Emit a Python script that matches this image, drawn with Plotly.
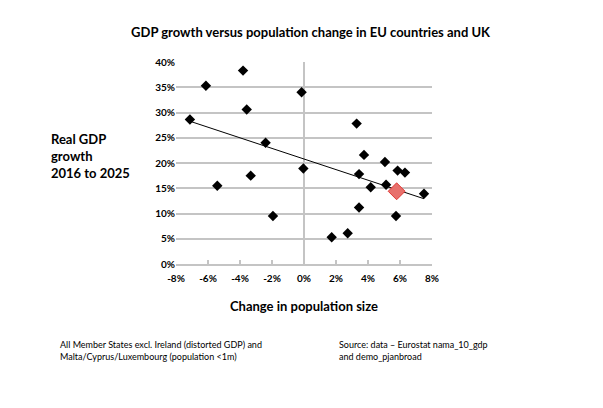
import numpy as np
import plotly.graph_objects as go

# population change (%) and real GDP growth (%)
pop_change = [-7.13, -6.13, -5.42, -3.81, -3.58, -3.33, -2.40, -1.94, -0.15, -0.04,
              1.73, 2.73, 3.29, 3.44, 3.44, 3.75, 4.17, 5.06, 5.13, 5.75, 5.85, 6.31, 7.50]
gdp_growth = [28.6, 35.3, 15.5, 38.3, 30.6, 17.5, 24.0, 9.5, 34.0, 18.9,
              5.3, 6.1, 27.8, 17.8, 11.2, 21.6, 15.2, 20.2, 15.7, 9.5, 18.5, 18.1, 13.9]
uk_pop = [5.79]
uk_gdp = [14.4]

x_ticks = [-8, -6, -4, -2, 0, 2, 4, 6, 8]
y_ticks = [0, 5, 10, 15, 20, 25, 30, 35, 40]

all_x = np.array(pop_change + uk_pop)
all_y = np.array(gdp_growth + uk_gdp)
slope, intercept = np.polyfit(all_x, all_y, 1)
tx = np.array([all_x.min(), all_x.max()])
ty = slope * tx + intercept

FONT = "Lato"
fig = go.Figure()
fig.add_trace(go.Scatter(x=tx, y=ty, mode="lines",
                         line=dict(color="black", width=1), hoverinfo="skip"))
fig.add_trace(go.Scatter(x=pop_change, y=gdp_growth, mode="markers",
                         marker=dict(symbol="diamond", size=8, color="black")))
fig.add_trace(go.Scatter(x=uk_pop, y=uk_gdp, mode="markers",
                         marker=dict(symbol="diamond", size=13, color="#e8706c",
                                     line=dict(color="#e03a36", width=1))))

fig.update_layout(
    width=603, height=408,
    margin=dict(l=176, r=171, t=62, b=144),
    paper_bgcolor="white", plot_bgcolor="white",
    showlegend=False,
    font=dict(family=FONT, color="black"),
    title=dict(text="GDP growth versus population change in EU countries and UK",
               x=0.515, xanchor="center", y=0.92, yanchor="middle",
               font=dict(size=13, weight="bold", family=FONT)),
    xaxis=dict(range=[-8, 8], tickvals=x_ticks,
               ticktext=[f"{v}%" for v in x_ticks],
               showgrid=False, zeroline=True, zerolinecolor="#c4c4c4", zerolinewidth=2,
               showline=True, linecolor="#c4c4c4", linewidth=2,
               ticks="inside", ticklen=4, tickcolor="#c4c4c4", tickwidth=1.5,
               ticklabelstandoff=4,
               tickfont=dict(size=10, weight="bold", family=FONT)),
    yaxis=dict(range=[0, 40], tickvals=y_ticks,
               ticktext=[f"{v}%" for v in y_ticks],
               showgrid=True, gridcolor="#c4c4c4", gridwidth=2,
               zeroline=False, showline=False, ticks="", ticklen=6,
               tickfont=dict(size=10, weight="bold", family=FONT)),
)

fig.add_annotation(text="Real GDP<br>growth<br>2016 to 2025", xref="paper", yref="paper",
                   x=-0.495, xanchor="left", y=0.535, yanchor="middle", align="left",
                   showarrow=False, font=dict(size=13, weight="bold", family=FONT))
fig.add_annotation(text="Change in population size", xref="paper", yref="paper",
                   x=0.5, xanchor="center", y=-0.21, yanchor="middle",
                   showarrow=False, font=dict(size=13, weight="bold", family=FONT))
fig.add_annotation(text="All Member States excl. Ireland (distorted GDP) and<br>Malta/Cyprus/Luxembourg (population <1m)",
                   xref="paper", yref="paper", x=-0.46, xanchor="left", y=-0.43, yanchor="middle",
                   align="left", showarrow=False, font=dict(size=9, family=FONT))
fig.add_annotation(text="Source: data – Eurostat nama_10_gdp<br>and demo_pjanbroad",
                   xref="paper", yref="paper", x=0.627, xanchor="left", y=-0.43, yanchor="middle",
                   align="left", showarrow=False, font=dict(size=9, family=FONT))

fig.write_html("out.html")
